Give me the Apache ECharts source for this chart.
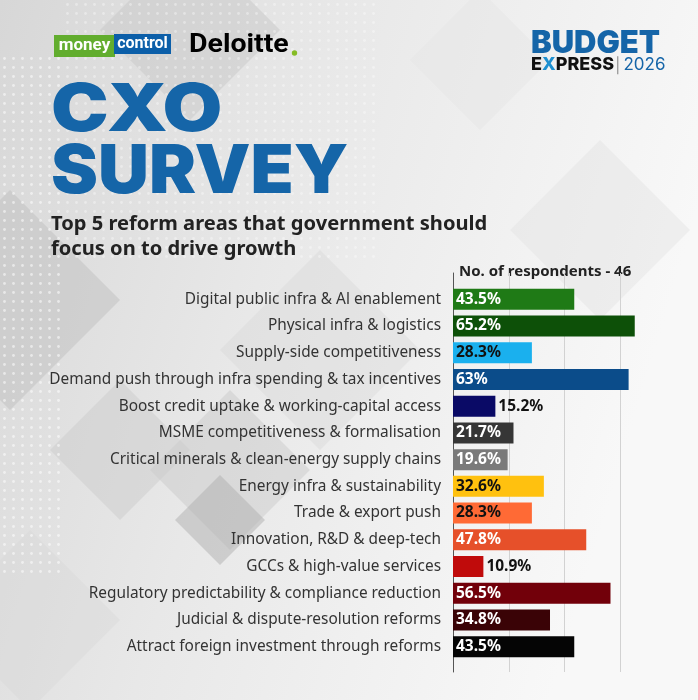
<!DOCTYPE html>
<html><head><meta charset="utf-8">
<script src="https://cdn.jsdelivr.net/npm/echarts@6/dist/echarts.min.js"></script>
<style>html,body{margin:0;padding:0;background:#eee}#c{width:698px;height:700px}</style>
</head><body><div id="c"></div><script>
// ---- data ----
const categories = [
  'Digital public infra & Al enablement',
  'Physical infra & logistics',
  'Supply-side competitiveness',
  'Demand push through infra spending & tax incentives',
  'Boost credit uptake & working-capital access',
  'MSME competitiveness & formalisation',
  'Critical minerals & clean-energy supply chains',
  'Energy infra & sustainability',
  'Trade & export push',
  'Innovation, R&D & deep-tech',
  'GCCs & high-value services',
  'Regulatory predictability & compliance reduction',
  'Judicial & dispute-resolution reforms',
  'Attract foreign investment through reforms'
];
const values = [43.5, 65.2, 28.3, 63, 15.2, 21.7, 19.6, 32.6, 28.3, 47.8, 10.9, 56.5, 34.8, 43.5];
const respondents = 46;

// ---- styles ----
const barColors = ['#1f7a16','#0d5008','#1ab0ee','#0b4c8a','#0a0a66','#363636','#7a7a7a',
  '#ffc10f','#ff6a35','#e6502a','#c00b0b','#72000a','#3a0306','#050505'];
const labelColors = ['#fff','#fff','#111','#fff','#111','#fff','#fff','#111','#111','#fff','#111','#fff','#fff','#fff'];
const BLUE = '#1565a8';

// dot pattern canvas
const pc = document.createElement('canvas');
pc.width = 9; pc.height = 9;
const pctx = pc.getContext('2d');
pctx.fillStyle = 'rgba(255,255,255,0.9)';
pctx.beginPath(); pctx.arc(4.5, 4.5, 1.4, 0, Math.PI * 2); pctx.fill();

function diamond(cx, cy, r, color, op) {
  return { type: 'polygon', z: -90, silent: true,
    shape: { points: [[cx, cy - r], [cx + r, cy], [cx, cy + r], [cx - r, cy]] },
    style: { fill: color, opacity: op } };
}

const chart = echarts.init(document.getElementById('c'), null, { renderer: 'canvas' });
const FONT = '"Noto Sans", "Open Sans", sans-serif';
const RFONT = 'Roboto, sans-serif';

const option = {
  animation: false,
  backgroundColor: '#efefef',
  textStyle: { fontFamily: FONT },
  grid: [
    { left: 453, right: 22, top: 273, bottom: 28 },
    { left: 453, right: 22, top: 286, bottom: 40 }
  ],
  xAxis: [
    { gridIndex: 0, type: 'value', min: 0, max: 80, interval: 20,
      axisLine: { show: false }, axisTick: { show: false }, axisLabel: { show: false },
      splitLine: { show: true, showMinLine: false, showMaxLine: false, lineStyle: { color: '#d2d2d2', width: 1 } } },
    { gridIndex: 1, type: 'value', min: 0, max: 80, interval: 20, show: false, splitLine: { show: false } }
  ],
  yAxis: [
    { gridIndex: 0, type: 'value', min: 0, max: 1,
      axisLine: { show: true, lineStyle: { color: '#555', width: 1 } },
      axisTick: { show: false }, axisLabel: { show: false }, splitLine: { show: false } },
    { gridIndex: 1, type: 'category', data: categories, inverse: true,
      axisLine: { show: false }, axisTick: { show: false }, splitLine: { show: false },
      axisLabel: { margin: 12, color: '#333', fontSize: 15.4, fontFamily: FONT } }
  ],
  series: [{
    type: 'bar', xAxisIndex: 1, yAxisIndex: 1, barWidth: 21,
    data: values.map((v, i) => ({
      value: v,
      itemStyle: { color: barColors[i] },
      label: {
        show: true,
        position: v < 16 ? 'right' : 'insideLeft',
        distance: 3,
        color: labelColors[i],
        fontWeight: 'bold', fontSize: 15.5, fontFamily: FONT,
        formatter: p => p.value + '%'
      }
    }))
  }],
  graphic: [
    // background
    { type: 'rect', z: -100, silent: true, shape: { x: 0, y: 0, width: 698, height: 700 },
      style: { fill: new echarts.graphic.LinearGradient(0, 0, 1, 0.3, [
        { offset: 0, color: '#d7d7d7' }, { offset: 0.45, color: '#e8e8e8' }, { offset: 1, color: '#f8f8f8' }]) } },
    diamond(190, 30, 90, '#c8c8c8', 0.5),
    diamond(10, 300, 110, '#c0c0c0', 0.5),
    diamond(230, 470, 80, '#bdbdbd', 0.35),
    diamond(220, 520, 45, '#b0b0b0', 0.5),
    diamond(120, 450, 70, '#cbcbcb', 0.5),
    diamond(320, 350, 100, '#d6d6d6', 0.4),
    diamond(600, 230, 90, '#e3e3e3', 0.45),
    diamond(480, 60, 70, '#e6e6e6', 0.5),
    diamond(30, 620, 90, '#d8d8d8', 0.4),
    { type: 'rect', z: -80, silent: true, shape: { x: 0, y: 55, width: 60, height: 520 },
      style: { fill: { image: pc, repeat: 'repeat' }, opacity: 0.6 } },
    { type: 'rect', z: -80, silent: true, shape: { x: 60, y: 0, width: 320, height: 260 },
      style: { fill: { image: pc, repeat: 'repeat' }, opacity: 0.4 } },
    // moneycontrol logo
    { type: 'rect', shape: { x: 54, y: 35, width: 61, height: 22 }, style: { fill: '#62ad2e' } },
    { type: 'rect', shape: { x: 114, y: 34, width: 57, height: 20 }, style: { fill: '#0c5fa9' } },
    { type: 'text', x: 84.5, y: 45.5, style: { text: 'money', fill: '#fff', font: 'bold 17px ' + RFONT, align: 'center', verticalAlign: 'middle' } },
    { type: 'text', x: 142.5, y: 44, style: { text: 'control', fill: '#fff', font: 'bold 16px ' + RFONT, align: 'center', verticalAlign: 'middle' } },
    // Deloitte
    { type: 'text', x: 189, y: 46, scaleX: 1.14, style: { text: 'Deloitte', fill: '#000', font: 'bold 25px ' + RFONT, verticalAlign: 'middle' } },
    { type: 'circle', shape: { cx: 294.5, cy: 53, r: 2.7 }, style: { fill: '#86bc25' } },
    // Budget Express
    { type: 'text', x: 531, y: 44, style: { text: 'BUDGET', fill: BLUE, font: '900 31px Inter, sans-serif', verticalAlign: 'middle' } },
    { type: 'text', x: 531, y: 65, style: {
      text: '{a|E}{x|X}{a|PRESS}{s|│}{y|2026}', verticalAlign: 'middle',
      rich: {
        a: { fill: '#111', font: '800 18px Inter, sans-serif' },
        x: { fill: '#1d8fd0', font: '800 18px Inter, sans-serif' },
        s: { fill: '#888', font: '300 15px Inter, sans-serif' },
        y: { fill: BLUE, font: '400 17px Inter, sans-serif' }
      } } },
    // Title
    { type: 'text', x: 51, y: 111, scaleX: 1.17, style: { text: 'CXO', fill: BLUE, font: '900 66px Inter, sans-serif', verticalAlign: 'middle' } },
    { type: 'text', x: 51, y: 173, scaleX: 1.053, style: { text: 'SURVEY', fill: BLUE, font: '900 67px Inter, sans-serif', verticalAlign: 'middle' } },
    // Subtitle
    { type: 'text', x: 51, y: 224, style: { text: 'Top 5 reform areas that government should', fill: '#222', font: 'bold 20.1px ' + FONT, verticalAlign: 'middle' } },
    { type: 'text', x: 51, y: 249, style: { text: 'focus on to drive growth', fill: '#222', font: 'bold 20.1px ' + FONT, verticalAlign: 'middle' } },
    // respondents
    { type: 'text', x: 459, y: 272, style: { text: 'No. of respondents - ' + respondents, fill: '#222', font: 'bold 15px ' + FONT, verticalAlign: 'middle' } }
  ]
};
chart.setOption(option);
</script></body></html>
